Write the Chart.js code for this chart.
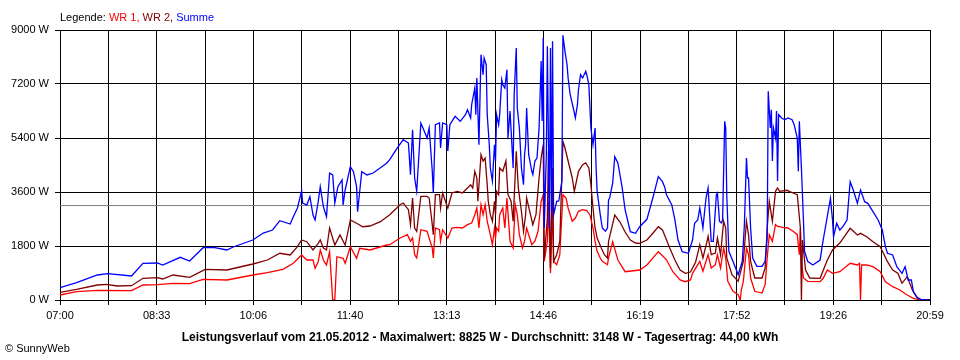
<!DOCTYPE html>
<html>
<head>
<meta charset="utf-8">
<script src="https://cdn.jsdelivr.net/npm/chart.js@4.4.1/dist/chart.umd.min.js"></script>
<style>
    body { margin: 0; background: #ffffff; }
    canvas { display: block; }
</style>
</head>
<body>
<canvas id="chart" width="960" height="360"></canvas>
<script>
// x axis: minutes since 07:00, day ends at 20:59
const dayMinutes = 839;
const timeLabels = ['07:00', '08:33', '10:06', '11:40', '13:13', '14:46', '16:19', '17:52', '19:26', '20:59'];
const wattTicks = [0, 1800, 3600, 5400, 7200, 9000];
const avgWatt = 3148;

// Summe (blue)
const sumMin = [
    0, 16, 36, 46, 69, 80, 94, 99, 116, 125,
    138, 148, 161, 167, 186, 196, 205, 212, 222, 225,
    229, 233, 234, 238, 241, 244, 246, 249, 251, 254,
    257, 260, 263, 265, 268, 272, 273, 275, 280, 283,
    286, 287, 291, 296, 302, 315, 318, 325, 331, 336,
    338, 340, 342, 344, 348, 350, 354, 356, 359, 360,
    362, 366, 367, 369, 373, 374, 376, 379, 381, 386,
    391, 393, 396, 397, 400, 401, 402, 404, 406, 408,
    409, 411, 412, 414, 415, 417, 419, 420, 421, 423,
    424, 426, 427, 429, 431, 432, 434, 437, 438, 440,
    441, 443, 445, 447, 448, 449, 450, 452, 455, 456,
    458, 460, 462, 464, 465, 466, 467, 469, 470, 472,
    473, 474, 475, 476, 479, 481, 484, 485, 487, 489,
    490, 492, 495, 497, 499, 500, 502, 504, 507, 508,
    510, 512, 514, 516, 517, 518, 521, 523, 526, 528,
    529, 530, 533, 535, 538, 542, 545, 550, 555, 559,
    566, 572, 577, 581, 583, 585, 590, 593, 596, 600,
    606, 610, 612, 615, 617, 619, 620, 623, 625, 628,
    630, 633, 634, 636, 638, 639, 641, 642, 643, 645,
    649, 654, 658, 660, 662, 663, 664, 666, 668, 672,
    677, 680, 682, 683, 685, 686, 687, 688, 690, 691,
    692, 693, 696, 699, 702, 706, 708, 711, 712, 713,
    715, 717, 718, 721, 726, 733, 736, 743, 745, 746,
    749, 752, 755, 759, 762, 765, 769, 772, 773, 776,
    779, 784, 789, 793, 796, 798, 803, 807, 812, 815,
    818, 821, 823, 827, 832, 839
];
const sumW = [
    410, 577, 833, 877, 800, 1223, 1233, 1167, 1423, 1300,
    1743, 1757, 1667, 1767, 2000, 2233, 2333, 2643, 2533, 2777,
    3067, 3643, 3233, 3167, 3443, 2833, 2667, 3277, 3777, 3110,
    2777, 4233, 4167, 3233, 3777, 4000, 3167, 3667, 4443, 4277,
    3777, 2943, 4277, 4167, 4233, 4557, 4677, 5057, 5343, 5233,
    4177, 5677, 4067, 3623, 5900, 5733, 5400, 5733, 4300, 3567,
    5843, 5900, 5067, 5900, 5843, 4967, 5843, 6010, 6123, 5957,
    6177, 6343, 6067, 6510, 7067, 6177, 7400, 5177, 8177, 7510,
    8067, 7843, 6177, 5177, 4400, 3967, 5177, 4633, 6177, 5843,
    6177, 7343, 7177, 7067, 7677, 5400, 6300, 4400, 6843, 8400,
    6400, 5733, 4400, 3843, 4843, 5177, 6400, 4843, 4290, 4177,
    4633, 4733, 5733, 7967, 5967, 8733, 2400, 4843, 8457, 2400,
    8400, 2967, 8623, 2843, 3290, 3300, 3967, 8825, 8290, 7843,
    7400, 6843, 6400, 6067, 6510, 7010, 7510, 7400, 7623, 7510,
    7177, 5733, 5177, 5733, 4400, 3623, 2843, 2400, 2290, 2400,
    3343, 3390, 3900, 4777, 4567, 3777, 3000, 2277, 2223, 2443,
    2690, 3443, 4110, 3943, 3777, 3500, 3167, 2667, 2000, 1610,
    1557, 2000, 2557, 2667, 3067, 2633, 2400, 3400, 3733, 1957,
    1957, 3510, 3567, 2623, 2567, 2677, 5957, 5733, 3510, 1623,
    1290, 843, 1290, 2510, 4733, 4067, 4067, 2400, 1400, 1123,
    1123, 1290, 2067, 6957, 5733, 6343, 4633, 5733, 5400, 6300,
    3967, 6177, 6067, 6010, 6067, 6010, 5843, 5400, 4290, 5957,
    4400, 2623, 1623, 1290, 1167, 1333, 2000, 3390, 2667, 2110,
    2557, 2333, 2443, 2667, 3943, 3667, 3223, 3667, 3567, 3277,
    3223, 2943, 2667, 2333, 1777, 1557, 1500, 1110, 890, 1110,
    667, 667, 277, 57, 0, 0
];

// WR 2 (dark red)
const wr2Min = [
    0, 16, 36, 45, 55, 69, 80, 94, 99, 109,
    125, 140, 161, 186, 200, 212, 222, 229, 233, 238,
    244, 249, 251, 254, 257, 260, 265, 270, 275, 280,
    286, 292, 299, 309, 318, 328, 331, 336, 338, 340,
    342, 344, 348, 354, 356, 359, 360, 362, 366, 367,
    369, 374, 378, 383, 388, 393, 396, 398, 400, 402,
    403, 406, 408, 410, 412, 413, 415, 417, 419, 420,
    421, 423, 424, 427, 430, 432, 435, 437, 440, 442,
    445, 447, 449, 450, 453, 456, 459, 462, 464, 466,
    467, 470, 471, 473, 474, 475, 476, 479, 482, 485,
    487, 490, 494, 496, 498, 500, 504, 507, 510, 512,
    514, 516, 518, 522, 525, 528, 529, 535, 540, 545,
    550, 555, 559, 566, 572, 577, 581, 583, 588, 593,
    598, 603, 608, 613, 617, 620, 624, 625, 628, 632,
    634, 637, 640, 642, 643, 648, 654, 659, 662, 664,
    666, 670, 677, 680, 682, 684, 687, 690, 692, 694,
    701, 707, 711, 714, 715, 716, 719, 723, 733, 740,
    745, 752, 762, 769, 772, 778, 784, 791, 798, 803,
    808, 812, 817, 822, 826, 831, 839
];
const wr2W = [
    257, 357, 500, 523, 467, 477, 723, 743, 700, 833,
    757, 1023, 1000, 1200, 1333, 1557, 1500, 1777, 2000, 1943,
    1667, 1890, 2000, 1733, 1667, 2400, 1833, 2167, 1833, 2667,
    2557, 2443, 2467, 2610, 2843, 3177, 3233, 3010, 2510, 3400,
    2400, 2290, 3457, 3457, 3400, 2510, 2177, 3510, 3510, 3067,
    3567, 3067, 3567, 3623, 3567, 3733, 3843, 3733, 4290, 4067,
    3290, 4843, 4633, 4733, 3843, 3290, 2843, 2623, 3290, 2843,
    3623, 3510, 4400, 4290, 4633, 3510, 3290, 2623, 4957, 3733,
    2957, 2290, 2843, 3400, 2957, 2510, 2843, 4067, 4733, 5177,
    1400, 2733, 4957, 1067, 2843, 4400, 1290, 1510, 1957, 5290,
    5067, 4633, 4067, 3623, 3957, 4290, 4510, 4567, 4400, 3843,
    3067, 2400, 2067, 1733, 1510, 1400, 1957, 2833, 2600, 2267,
    2000, 1900, 1890, 2000, 2233, 2443, 2333, 2167, 1733, 1333,
    1000, 890, 933, 1267, 1843, 1400, 1957, 2123, 1510, 1567,
    2067, 1510, 2623, 2400, 1400, 843, 623, 1290, 2623, 2177,
    1290, 733, 733, 1067, 2400, 3290, 2623, 3623, 3733, 3623,
    3657, 3567, 3510, 2400, 0, 2000, 1000, 733, 723, 1333,
    1667, 1900, 2390, 2167, 2223, 2110, 1943, 1777, 1277, 1000,
    890, 557, 777, 333, 110, 0, 0
];

// WR 1 (red)
const wr1Min = [
    0, 16, 36, 69, 80, 94, 109, 125, 138, 161,
    186, 200, 215, 225, 233, 238, 244, 246, 249, 251,
    254, 257, 260, 263, 265, 267, 273, 275, 280, 286,
    289, 299, 315, 318, 328, 335, 338, 340, 342, 344,
    348, 354, 359, 360, 362, 366, 367, 369, 374, 378,
    383, 388, 393, 397, 400, 402, 404, 406, 408, 410,
    412, 415, 417, 419, 420, 421, 423, 424, 427, 429,
    431, 434, 437, 439, 441, 443, 446, 448, 450, 452,
    455, 458, 461, 464, 466, 467, 470, 471, 473, 474,
    475, 476, 479, 482, 485, 488, 490, 494, 497, 500,
    504, 508, 511, 514, 516, 518, 521, 523, 528, 529,
    533, 538, 545, 559, 566, 577, 582, 585, 591, 598,
    603, 608, 610, 617, 620, 624, 625, 628, 632, 634,
    637, 640, 642, 644, 649, 654, 656, 657, 659, 662,
    664, 666, 670, 677, 680, 682, 684, 687, 690, 692,
    697, 702, 707, 711, 713, 714, 715, 717, 721, 733,
    736, 740, 745, 752, 762, 769, 771, 772, 773, 778,
    784, 791, 796, 803, 810, 817, 823, 829, 839
];
const wr1W = [
    167, 277, 323, 310, 500, 510, 557, 543, 690, 667,
    833, 910, 1023, 1223, 1500, 1333, 1333, 1057, 1277, 1667,
    1333, 1167, 1610, 0, 0, 1443, 1390, 1223, 1777, 1390,
    1723, 1667, 1833, 1843, 2067, 2177, 1957, 2067, 1510, 1400,
    2343, 2290, 1733, 1400, 2400, 2343, 1957, 2343, 2067, 2400,
    2423, 2400, 2510, 2567, 2843, 3067, 2400, 3177, 2843, 3177,
    2623, 2177, 1843, 2400, 2067, 2400, 2290, 2843, 3067, 2400,
    3400, 1957, 1733, 3177, 2843, 2177, 1733, 1957, 2400, 2177,
    1843, 1957, 2290, 3290, 3510, 1290, 1957, 3290, 900, 1957,
    3177, 1290, 1177, 1510, 3510, 3400, 3067, 2623, 2733, 2957,
    3010, 2977, 2843, 2400, 1957, 1623, 1400, 1290, 1177, 1400,
    1943, 1333, 943, 1000, 1167, 1610, 1443, 1333, 943, 667,
    610, 667, 890, 1290, 957, 1400, 1510, 1067, 1177, 1510,
    1067, 1733, 1400, 623, 290, 177, 0, 333, 623, 1733,
    1510, 733, 290, 233, 510, 1400, 2177, 1957, 2510, 2457,
    2423, 2400, 2290, 2177, 1510, 2400, 1290, 733, 623, 610,
    723, 1000, 890, 943, 1223, 1167, 1223, 0, 1167, 1167,
    1110, 943, 610, 443, 333, 167, 57, 0, 0
];

function toPoints(minutes, watts) {
    return minutes.map((m, i) => ({ x: m, y: watts[i] }));
}

const fontFamily = '"Liberation Sans", Arial, sans-serif';
Chart.defaults.font.family = fontFamily;
Chart.defaults.font.size = 11;
Chart.defaults.color = 'black';

// Legend, title and copyright drawn on the canvas like the original image.
const textPlugin = {
    id: 'sunnyText',
    afterDraw(chart) {
        const ctx = chart.ctx;
        ctx.save();
        ctx.textBaseline = 'alphabetic';
        ctx.textAlign = 'left';

        ctx.font = '11px ' + fontFamily;
        const parts = [
            ['Legende: ', 'black'],
            ['WR 1, ', '#ff0000'],
            ['WR 2, ', '#800000'],
            ['Summe', '#0000ff']
        ];
        let x = 60;
        parts.forEach(p => {
            ctx.fillStyle = p[1];
            ctx.fillText(p[0], x, 21);
            x += ctx.measureText(p[0]).width;
        });

        ctx.fillStyle = 'black';
        ctx.font = 'bold 12px ' + fontFamily;
        ctx.textAlign = 'center';
        ctx.fillText('Leistungsverlauf vom 21.05.2012 - Maximalwert: 8825 W - Durchschnitt: 3148 W - Tagesertrag: 44,00 kWh', 480, 341);

        ctx.font = '11px ' + fontFamily;
        ctx.textAlign = 'left';
        ctx.fillText('\u00A9 SunnyWeb', 5, 352);
        ctx.restore();
    }
};

const ctx = document.getElementById('chart').getContext('2d');
new Chart(ctx, {
    type: 'line',
    data: {
        datasets: [
            {
                label: 'Summe',
                data: toPoints(sumMin, sumW),
                borderColor: '#0000ff',
                order: 0
            },
            {
                label: 'WR 2',
                data: toPoints(wr2Min, wr2W),
                borderColor: '#800000',
                order: 1
            },
            {
                label: 'WR 1',
                data: toPoints(wr1Min, wr1W),
                borderColor: '#ff0000',
                order: 2
            },
            {
                label: 'Durchschnitt',
                data: [{ x: 0, y: avgWatt }, { x: dayMinutes, y: avgWatt }],
                borderColor: '#808080',
                borderWidth: 1,
                order: 3
            }
        ]
    },
    options: {
        responsive: false,
        animation: false,
        events: [],
        layout: {
            padding: { top: 30, right: 30, left: 0, bottom: 0 }
        },
        elements: {
            line: { borderWidth: 1.3, tension: 0, fill: false },
            point: { radius: 0 }
        },
        plugins: {
            legend: { display: false },
            tooltip: { enabled: false }
        },
        scales: {
            x: {
                type: 'linear',
                min: 0,
                max: dayMinutes,
                afterBuildTicks: (scale) => {
                    const ticks = [];
                    for (let i = 0; i <= 18; i++) {
                        ticks.push({ value: i * dayMinutes / 18 });
                    }
                    scale.ticks = ticks;
                },
                afterFit: (scale) => { scale.height = 60; },
                ticks: {
                    autoSkip: false,
                    maxRotation: 0,
                    padding: 4,
                    callback: (value, index) => index % 2 === 0 ? timeLabels[index / 2] : ''
                },
                grid: { color: 'black', lineWidth: 1, tickLength: 5, tickColor: 'black' },
                border: { color: 'black' }
            },
            y: {
                min: 0,
                max: 9000,
                afterBuildTicks: (scale) => {
                    scale.ticks = wattTicks.map(v => ({ value: v }));
                },
                afterFit: (scale) => { scale.width = 60; },
                ticks: {
                    padding: 6,
                    callback: (value) => value + ' W'
                },
                grid: { color: 'black', lineWidth: 1, tickLength: 5, tickColor: 'black' },
                border: { color: 'black' }
            }
        }
    },
    plugins: [textPlugin]
});
</script>
</body>
</html>
